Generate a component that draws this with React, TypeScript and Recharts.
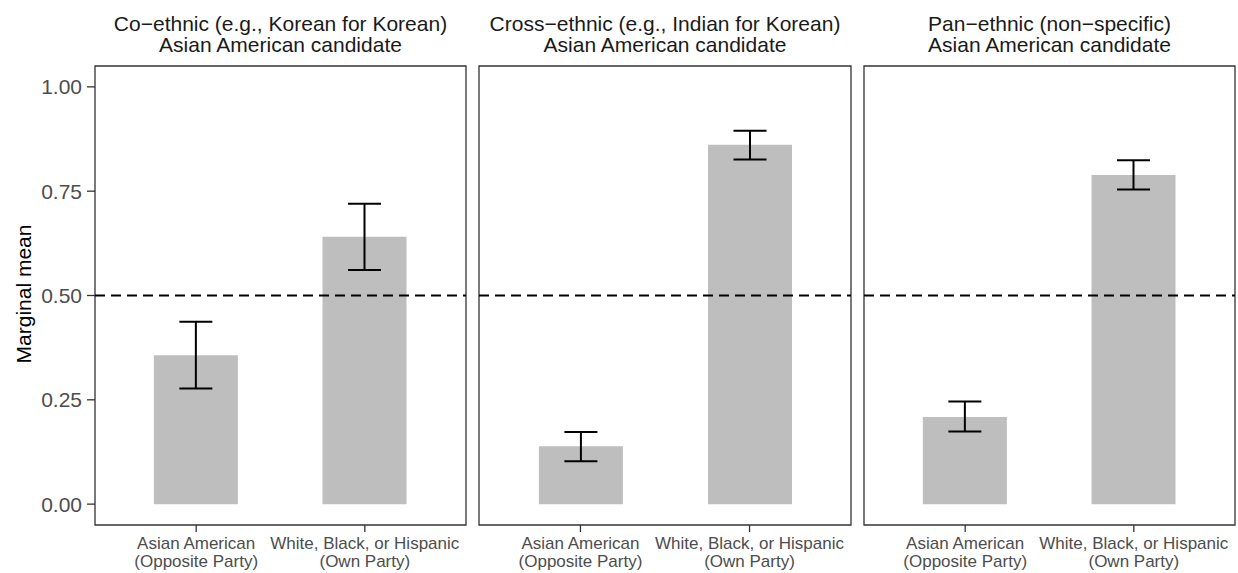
import { BarChart, Bar, XAxis, YAxis, ErrorBar, ReferenceLine, ReferenceArea } from 'recharts';

// categories on the x axis (same in every panel)
const categories = ['Asian American (Opposite Party)', 'White, Black, or Hispanic (Own Party)'];
const tickLines = [
  ['Asian American', '(Opposite Party)'],
  ['White, Black, or Hispanic', '(Own Party)'],
];

const panelTitles = [
  ['Co\u2212ethnic (e.g., Korean for Korean)', 'Asian American candidate'],
  ['Cross\u2212ethnic (e.g., Indian for Korean)', 'Asian American candidate'],
  ['Pan\u2212ethnic (non\u2212specific)', 'Asian American candidate'],
];

// marginal means and 95% interval bounds
const coEthnicMean = [0.357, 0.641];
const coEthnicLow = [0.277, 0.561];
const coEthnicHigh = [0.437, 0.72];

const crossEthnicMean = [0.139, 0.861];
const crossEthnicLow = [0.103, 0.826];
const crossEthnicHigh = [0.173, 0.895];

const panEthnicMean = [0.209, 0.789];
const panEthnicLow = [0.174, 0.754];
const panEthnicHigh = [0.246, 0.824];

const yTicks = [0, 0.25, 0.5, 0.75, 1];

const buildRows = (mean: number[], low: number[], high: number[]) =>
  categories.map((cat, i) => ({
    pos: i + 1,
    cat,
    mean: mean[i],
    err: [mean[i] - low[i], high[i] - mean[i]],
  }));

const panels = [
  buildRows(coEthnicMean, coEthnicLow, coEthnicHigh),
  buildRows(crossEthnicMean, crossEthnicLow, crossEthnicHigh),
  buildRows(panEthnicMean, panEthnicLow, panEthnicHigh),
];

const FONT = '"Liberation Sans", Arial, Helvetica, sans-serif';

const CatTick = (props: any) => {
  const { x, y, payload } = props;
  const lines = tickLines[Math.round(payload.value) - 1] || ['', ''];
  return (
    <text x={x} y={y} textAnchor="middle" fill="#4d4d4d" fontSize={17} fontFamily={FONT}>
      <tspan x={x} dy={15.3}>{lines[0]}</tspan>
      <tspan x={x} dy={17.4}>{lines[1]}</tspan>
    </text>
  );
};

// where each panel's chart sits on the page
const layout = [
  { left: 0, width: 468, mLeft: 0, showY: true, center: 280.5 },
  { left: 477, width: 376, mLeft: 2, showY: false, center: 665 },
  { left: 862, width: 375, mLeft: 2, showY: false, center: 1049.5 },
];

const Panel = ({ rows, cfg }: { rows: any[]; cfg: any }) => (
  <div style={{ position: 'absolute', left: cfg.left, top: 0 }}>
    <BarChart
      width={cfg.width}
      height={573}
      data={rows}
      margin={{ top: 66, right: 2, bottom: 0, left: cfg.mLeft }}
    >
      <XAxis
        type="number"
        dataKey="pos"
        domain={[0.4, 2.6]}
        ticks={[1, 2]}
        interval={0}
        height={48}
        tickSize={7}
        tickLine={{ stroke: '#333333', strokeWidth: 1.3 }}
        axisLine={false}
        tick={<CatTick />}
      />
      <YAxis
        hide={!cfg.showY}
        domain={[-0.05, 1.05]}
        ticks={yTicks}
        width={95}
        tickSize={8}
        tickMargin={5}
        axisLine={false}
        tickLine={{ stroke: '#333333', strokeWidth: 1.3 }}
        tick={{ fill: '#4d4d4d', fontSize: 21, fontFamily: FONT }}
        tickFormatter={(v: number) => v.toFixed(2)}
      />
      <ReferenceArea y1={-0.05} y2={1.05} fill="none" stroke="#333333" strokeWidth={1.3} fillOpacity={0} />
      <Bar dataKey="mean" fill="#bebebe" barSize={84} isAnimationActive={false}>
        <ErrorBar dataKey="err" width={16.5} stroke="#000000" strokeWidth={2} />
      </Bar>
      <ReferenceLine y={0.5} stroke="#000000" strokeWidth={2} strokeDasharray="10 6" />
    </BarChart>
  </div>
);

export default function App() {
  return (
    <div
      style={{
        position: 'absolute',
        left: 0,
        top: 0,
        width: 1238,
        height: 573,
        background: '#ffffff',
        fontFamily: FONT,
      }}
    >
      {panels.map((rows, i) => (
        <Panel key={i} rows={rows} cfg={layout[i]} />
      ))}
      <svg
        width={1238}
        height={573}
        style={{ position: 'absolute', left: 0, top: 0, pointerEvents: 'none' }}
      >
        {panelTitles.map((t, i) => (
          <text key={i} textAnchor="middle" fontSize={21} fill="#1a1a1a" fontFamily={FONT}>
            <tspan x={layout[i].center} y={30.7}>{t[0]}</tspan>
            <tspan x={layout[i].center} y={52.4}>{t[1]}</tspan>
          </text>
        ))}
        <text
          x={31}
          y={294}
          transform="rotate(-90, 31, 294)"
          textAnchor="middle"
          fontSize={21}
          fill="#000000"
          fontFamily={FONT}
        >
          Marginal mean
        </text>
      </svg>
    </div>
  );
}
